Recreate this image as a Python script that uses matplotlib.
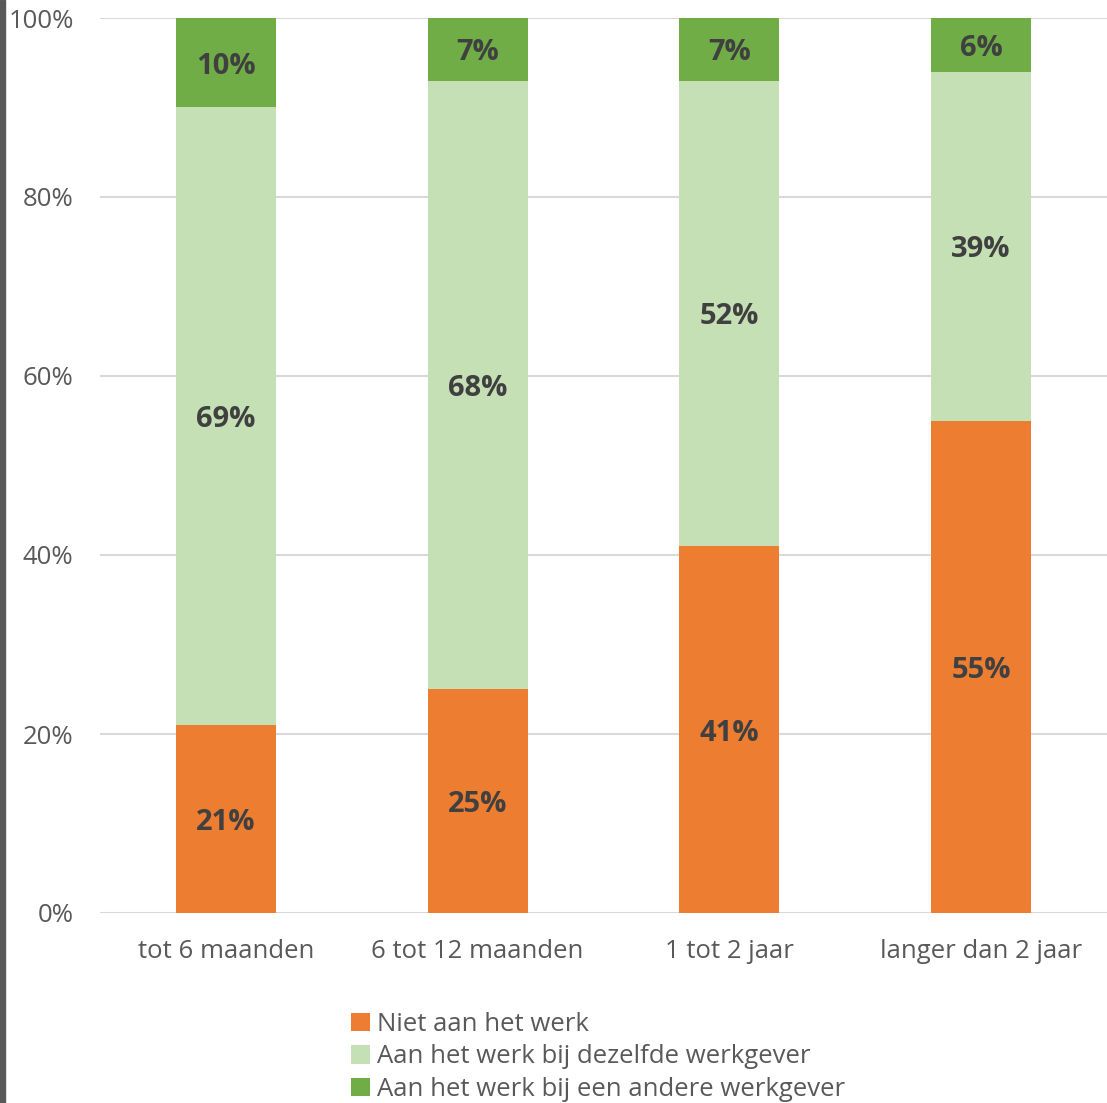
import numpy as np
import matplotlib.pyplot as plt
from matplotlib.patches import Rectangle

categories = ["tot 6 maanden", "6 tot 12 maanden", "1 tot 2 jaar", "langer dan 2 jaar"]
niet_aan_werk = [21, 25, 41, 55]
zelfde_werkgever = [69, 68, 52, 39]
andere_werkgever = [10, 7, 7, 6]
series_names = ["Niet aan het werk",
                "Aan het werk bij dezelfde werkgever",
                "Aan het werk bij een andere werkgever"]
colors = ["#ED7D31", "#C5E0B4", "#70AD47"]

plt.rcParams['font.family'] = ['Open Sans', 'DejaVu Sans']

fig = plt.figure(figsize=(11.07, 11.03), dpi=100)
ax = fig.add_axes([100 / 1107, 190 / 1103, 1007 / 1107, 895 / 1103])

x = np.arange(len(categories))
bottom = np.zeros(len(categories))
for vals, name, col in zip([niet_aan_werk, zelfde_werkgever, andere_werkgever], series_names, colors):
    bars = ax.bar(x, vals, width=0.397, bottom=bottom, color=col, label=name, zorder=3)
    for b, v in zip(bars, vals):
        ax.text(b.get_x() + b.get_width() / 2, b.get_y() + b.get_height() / 2, f"{v}%",
                ha="center", va="center_baseline", fontsize=21, fontweight="bold",
                color="#404040", zorder=4)
    bottom += np.array(vals)

ax.set_xlim(-0.5, 3.5)
ax.set_ylim(0, 100)
ax.set_yticks(np.arange(0, 101, 20))
ax.set_yticklabels([f"{t}%" for t in range(0, 101, 20)])
ax.set_xticks(x)
ax.set_xticklabels(categories)
ax.tick_params(axis="both", length=0, labelsize=18.5, labelcolor="#595959")
ax.tick_params(axis="y", pad=19)
ax.tick_params(axis="x", pad=19)
ax.grid(axis="y", color="#D9D9D9", linewidth=1.5, zorder=0)
for s in ax.spines.values():
    s.set_visible(False)

handles, labels = ax.get_legend_handles_labels()
leg = fig.legend(handles, labels, loc="upper left", bbox_to_anchor=(341 / 1107, 1 - 1002 / 1103),
                 frameon=False, fontsize=18.5, handlelength=0.72, handleheight=0.72,
                 handletextpad=0.3, labelspacing=0.28, borderaxespad=0)
for t in leg.get_texts():
    t.set_color("#595959")

fig.patches.append(Rectangle((0, 0), 5 / 1107, 1, transform=fig.transFigure,
                             color="#595959", zorder=10))

fig.savefig("out.png", dpi=100)
